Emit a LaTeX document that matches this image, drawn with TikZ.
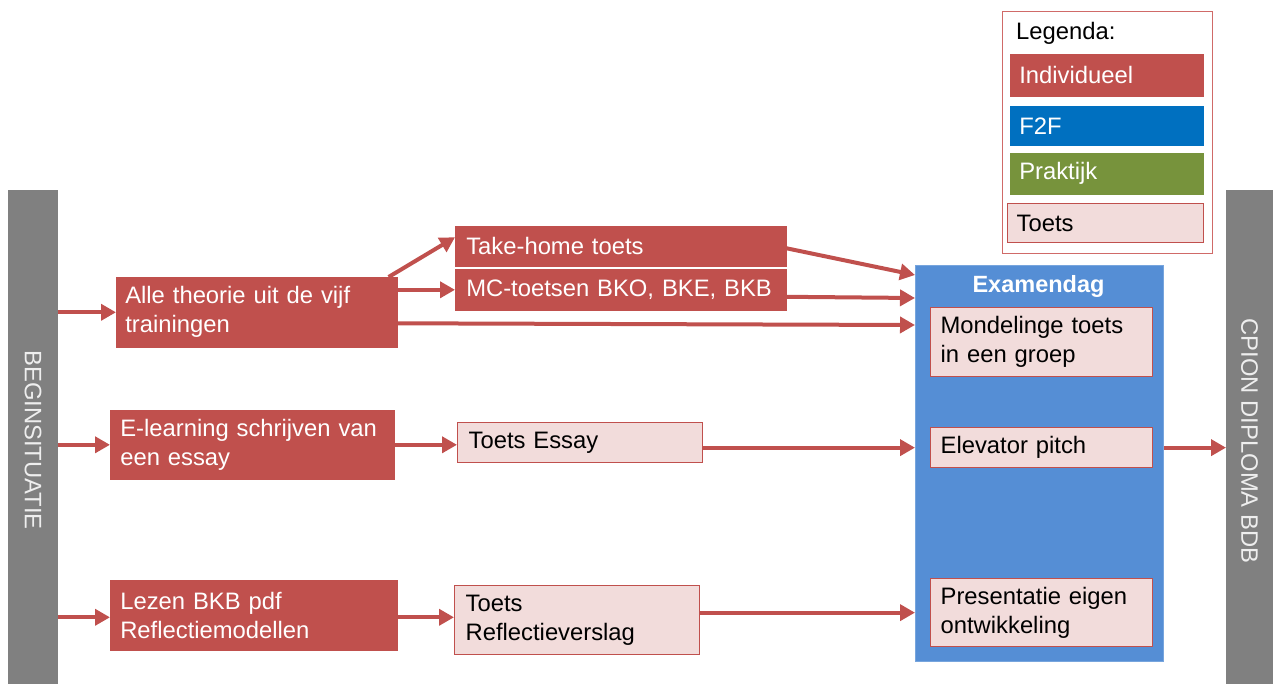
\documentclass[tikz,border=0pt]{standalone}
\usepackage{fontspec}
\setmainfont{Liberation Sans}
\usetikzlibrary{arrows.meta,calc}
\definecolor{cred}{HTML}{C0504D}
\definecolor{cpink}{HTML}{F2DCDB}
\definecolor{cexam}{HTML}{558ED5}
\definecolor{cf2f}{HTML}{0070C0}
\definecolor{cprak}{HTML}{77933C}
\definecolor{cgrey}{HTML}{808080}
\definecolor{cbartext}{HTML}{EEEEEE}
\definecolor{clegborder}{HTML}{D06A68}
\tikzset{
  base/.style={anchor=north west, align=left, inner ysep=0pt, font=\fontsize{23.8}{29}\selectfont},
  redbox/.style={base, fill=cred, draw=cred, line width=0.6pt, text=white},
  pinkbox/.style={base, fill=cpink, draw=cred, line width=1.3pt, text=black},
  greybar/.style={anchor=north west, fill=cgrey, draw=none, inner sep=0pt},
  bartext/.style={rotate=-90, text=cbartext, font=\fontsize{23.8}{28}\selectfont},
  arr/.style={draw=cred, line width=4pt, -{Triangle[length=15pt,width=16pt]}},
}
\begin{document}
\begin{tikzpicture}[x=1pt,y=-1pt]
\useasboundingbox (0,0) rectangle (1273,684);
% side bars
\node[greybar, minimum width=50pt, minimum height=494pt] (bl) at (8,190) {};
\node[greybar, minimum width=47pt, minimum height=494pt] (br) at (1226,190) {};
\node[bartext] (blt) at (33,440) {BEGINSITUATIE};
\node[bartext] (brt) at (1249.5,441) {CPION DIPLOMA BDB};
% legend
\node[anchor=north west, draw=clegborder, line width=1.2pt, fill=white, minimum width=210pt, minimum height=242pt, inner sep=0pt] (leg) at (1002,11) {};
\node[anchor=base west, inner sep=0pt, font=\fontsize{23.8}{28}\selectfont] (legt) at (1016,40) {Legenda:};
\node[redbox, fill=cred, text width=175pt, inner xsep=9pt, minimum height=42pt] (lind) at (1010,54) {Individueel};
\node[redbox, fill=cf2f, draw=cf2f, text width=175pt, inner xsep=9pt, minimum height=39pt] (lf2f) at (1010,106) {F2F};
\node[redbox, fill=cprak, draw=cprak, text width=175pt, inner xsep=9pt, minimum height=41pt] (lprak) at (1010,153) {Praktijk};
\node[pinkbox, text width=178pt, inner xsep=9pt, minimum height=39pt] (ltoets) at (1007,203) {Toets};
% left column
\node[redbox, text width=263pt, inner xsep=9pt, minimum height=70pt] (alle) at (116,277) {Alle theorie uit de vijf\\trainingen};
\node[redbox, text width=264pt, inner xsep=10pt, minimum height=69pt] (el) at (110,410) {E-learning schrijven van\\een essay};
\node[redbox, text width=267pt, inner xsep=10pt, minimum height=70pt] (lez) at (110,580) {Lezen BKB pdf\\Reflectiemodellen};
% middle column
\node[redbox, text width=309pt, inner xsep=11pt, minimum height=40pt] (take) at (455,226) {Take-home toets};
\node[redbox, text width=309pt, inner xsep=11pt, minimum height=41pt] (mc) at (455,269) {MC-toetsen BKO, BKE, BKB};
\node[pinkbox, text width=223pt, inner xsep=11pt, minimum height=40pt] (essay) at (457,422) {Toets Essay};
\node[pinkbox, text width=223pt, inner xsep=11pt, minimum height=69pt] (refl) at (454,585) {Toets\\Reflectieverslag};
% examendag
\node[anchor=north west, fill=cexam, draw=cexam!80!white, line width=0.8pt, minimum width=248pt, minimum height=396pt, inner sep=0pt] (exam) at (915,265) {};
\node[text=white, font=\bfseries\fontsize{23.5}{28}\selectfont] (examt) at (1038.5,286) {Examendag};
\node[pinkbox, text width=202pt, inner xsep=10pt, minimum height=69pt] (mond) at (930,307) {Mondelinge toets\\in een groep};
\node[pinkbox, text width=202pt, inner xsep=10pt, minimum height=40pt] (elev) at (930,427) {Elevator pitch};
\node[pinkbox, text width=202pt, inner xsep=10pt, minimum height=68pt] (pres) at (930,578) {Presentatie eigen\\ontwikkeling};
% arrow targets on the Examendag box
\coordinate (in1) at (915,275);
\coordinate (in2) at (915,298);
\coordinate (in3) at (915,325);
% arrows
\draw[arr] (bl.east |- alle.west) -- (alle.west);
\draw[arr] (bl.east |- el.west) -- (el.west);
\draw[arr] ([yshift=-2pt]bl.east |- lez.west) -- ([yshift=-2pt]lez.west);
\draw[arr] ([xshift=-9pt]alle.north east) -- ([yshift=9pt]take.west);
\draw[arr] (alle.east |- mc.west) -- (mc.west);
\draw[arr] ([yshift=-11pt]alle.east) -- (in3);
\draw[arr] ([yshift=-2pt]take.east) -- (in1);
\draw[arr] ([yshift=-7pt]mc.east) -- (in2);
\draw[arr] (el.east) -- (el.east -| essay.west);
\draw[arr] ([yshift=-2pt]lez.east) -- ([yshift=-2pt]lez.east -| refl.west);
\draw[arr] (essay.east |- elev.west) -- (elev.west -| exam.west);
\draw[arr] (refl.east |- pres.west) -- (pres.west -| exam.west);
\draw[arr] (elev.east -| exam.east) -- (elev.east -| br.west);
\end{tikzpicture}
\end{document}
